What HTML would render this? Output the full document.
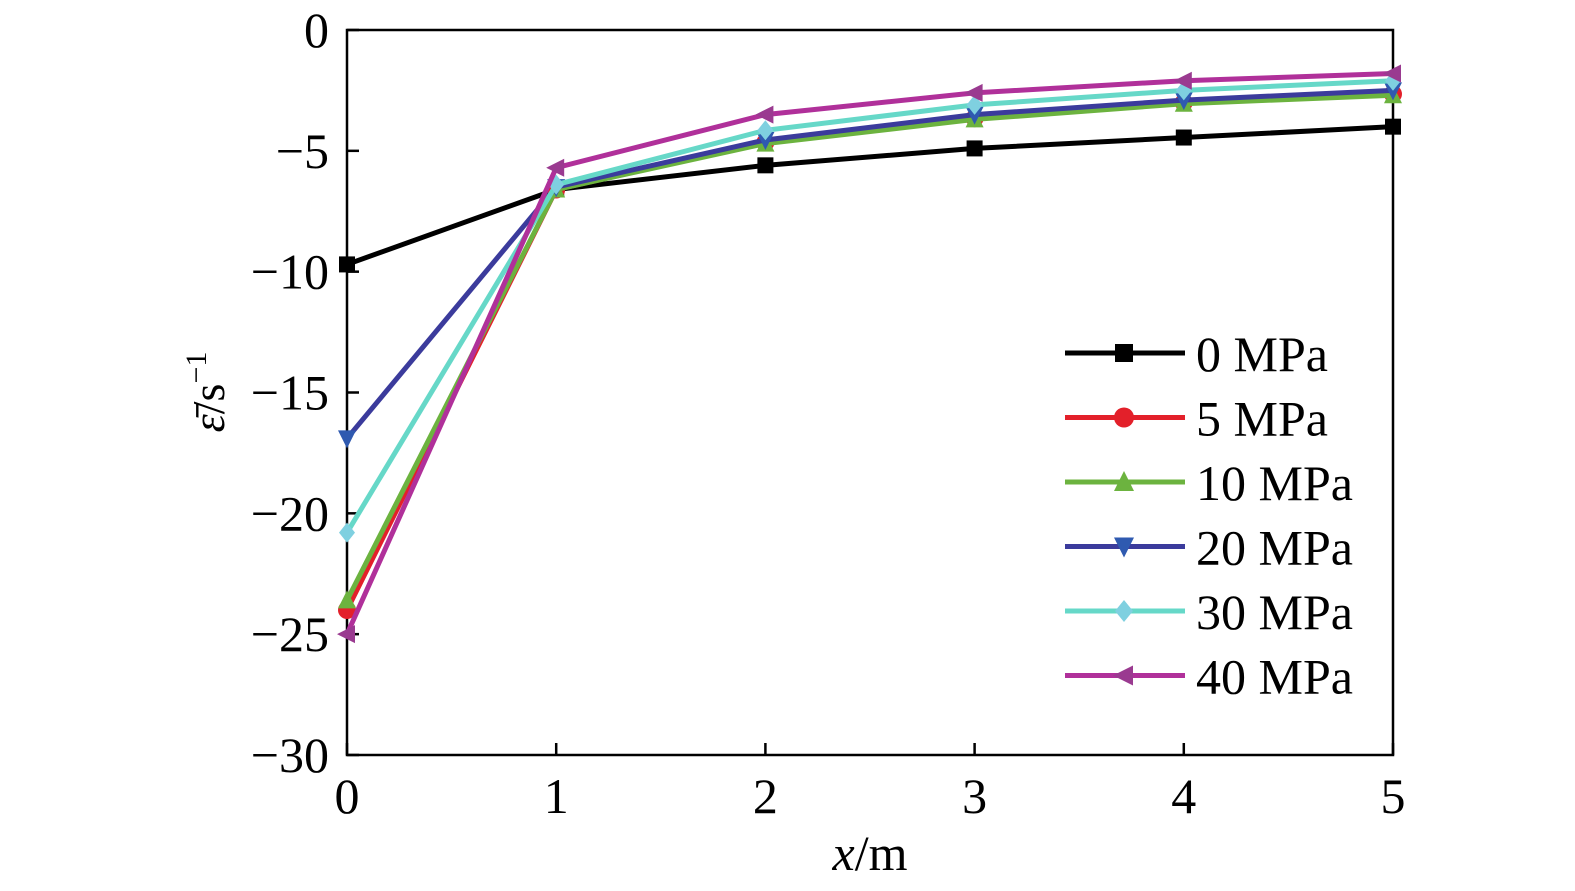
<!DOCTYPE html>
<html><head><meta charset="utf-8"><style>
body{margin:0;background:#fff;}
svg{display:block;font-family:"Liberation Serif",serif;}
</style></head><body>
<svg id="c" width="1575" height="891">
</svg>
<script>
const categories=[0,1,2,3,4,5];
const s0=[-9.7,-6.6,-5.6,-4.9,-4.45,-4.0];
const s5=[-24.0,-6.6,-4.65,-3.65,-3.0,-2.65];
const s10=[-23.6,-6.6,-4.7,-3.7,-3.05,-2.7];
const s20=[-16.9,-6.5,-4.55,-3.5,-2.9,-2.5];
const s30=[-20.8,-6.4,-4.15,-3.1,-2.5,-2.1];
const s40=[-25.0,-5.7,-3.5,-2.6,-2.1,-1.8];
const seriesNames=["0 MPa","5 MPa","10 MPa","20 MPa","30 MPa","40 MPa"];
const yTicks=[0,-5,-10,-15,-20,-25,-30];
const xTicks=[0,1,2,3,4,5];
const NS="http://www.w3.org/2000/svg";
const svg=document.getElementById('c');
const X0=347,X1=1393,Y0=30,Y1=755;
const xs=v=>X0+(v-0)/(5-0)*(X1-X0);
const ys=v=>Y0+(0-v)/(30)*(Y1-Y0);
function mk(t,a,p){const e=document.createElementNS(NS,t);for(const k in a)e.setAttribute(k,a[k]);(p||svg).appendChild(e);return e;}
const fr=mk('rect',{x:X0,y:Y0,width:X1-X0,height:Y1-Y0,fill:'none',stroke:'#000','stroke-width':2.5});


yTicks.forEach(v=>{
  const l=mk('line',{x1:X0,x2:X0+12,y1:ys(v),y2:ys(v),stroke:'#000','stroke-width':2.5});
  
  
  const t=mk('text',{x:X0-18,y:ys(v)+17,'text-anchor':'end','font-size':50});
  t.textContent=v<0?'\u2212'+(-v):String(v);
  
  
});
xTicks.forEach(v=>{
  const l=mk('line',{x1:xs(v),x2:xs(v),y1:Y1,y2:Y1-12,stroke:'#000','stroke-width':2.5});
  
  
  const t=mk('text',{x:xs(v),y:Y1+58,'text-anchor':'middle','font-size':50});
  t.textContent=v;
  
  
});
const xt=mk('text',{x:870,y:870,'text-anchor':'middle','font-size':50});
xt.innerHTML='<tspan font-style="italic">x</tspan>/m';


const yt=mk('text',{x:0,y:0,'text-anchor':'middle','font-size':46,transform:'translate(224,392) rotate(-90)'});
yt.innerHTML='<tspan font-style="italic">ε̄</tspan>/s<tspan dy="-18" font-size="30">−1</tspan>';


const data=[s0,s5,s10,s20,s30,s40];
const colors=['#000','#e3202a','#6cb33f','#3b3b9c','#66d8c8','#b0309a'];
const mcol=['#000','#e3202a','#6cb33f','#2f5ab0','#7fd0e0','#9a3a90'];
function marker(g,sh,x,y,c,r){
  let e;
  if(sh==0)e=mk('rect',{x:x-r,y:y-r,width:2*r,height:2*r,fill:c},g);
  else if(sh==1)e=mk('circle',{cx:x,cy:y,r:r+1,fill:c},g);
  else if(sh==2)e=mk('polygon',{points:`${x},${y-r-2} ${x+r+1},${y+r} ${x-r-1},${y+r}`,fill:c},g);
  else if(sh==3)e=mk('polygon',{points:`${x},${y+r+2} ${x+r+1},${y-r} ${x-r-1},${y-r}`,fill:c},g);
  else if(sh==4)e=mk('polygon',{points:`${x},${y-r-2} ${x+r},${y} ${x},${y+r+2} ${x-r},${y}`,fill:c},g);
  else e=mk('polygon',{points:`${x-r-2},${y} ${x+r},${y-r-1} ${x+r},${y+r+1}`,fill:c},g);
  return e;
}
data.forEach((arr,i)=>{
  const g=mk('g',{});
  
  
  const pl=mk('polyline',{points:arr.map((v,j)=>xs(categories[j])+','+ys(v)).join(' '),fill:'none',stroke:colors[i],'stroke-width':5},g);
  
  
  arr.forEach((v,j)=>{
    const m=marker(g,i,xs(categories[j]),ys(v),mcol[i],8);
    
    
  });
  const ly=353+i*64.5;
  const lg=mk('g',{});
  
  
  mk('line',{x1:1065,x2:1185,y1:ly,y2:ly,stroke:colors[i],'stroke-width':5},lg);
  marker(lg,i,1124,ly,mcol[i],9);
  const t=mk('text',{x:1196,y:ly+18,'font-size':50},lg);
  t.textContent=seriesNames[i];
});
</script>
</body></html>
